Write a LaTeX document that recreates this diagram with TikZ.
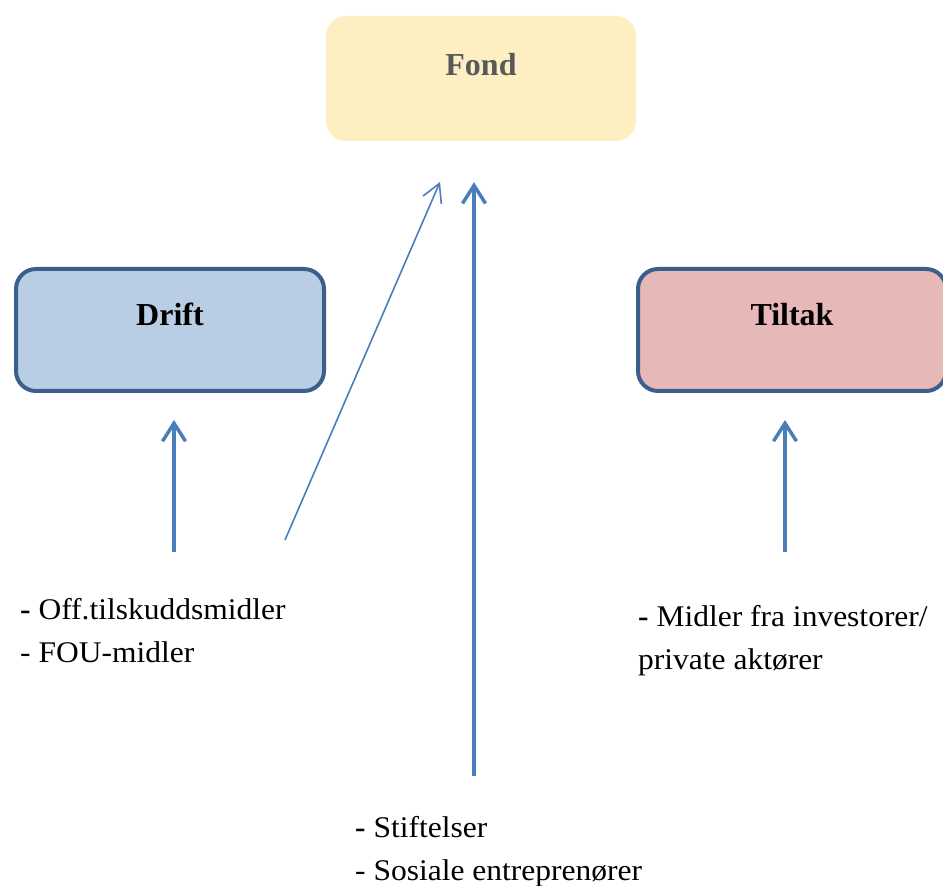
\documentclass[tikz,border=0pt]{standalone}
\usepackage{fontspec}
\setmainfont{Liberation Serif}
\newfontfamily\listfont{Liberation Serif}[FakeStretch=1.05]
\usetikzlibrary{arrows.meta}
\definecolor{fondfill}{HTML}{FEEFC3}
\definecolor{driftfill}{HTML}{B9CDE5}
\definecolor{tiltakfill}{HTML}{E6B9B8}
\definecolor{boxline}{HTML}{3A5F8C}
\definecolor{flowline}{HTML}{4A7EBB}
\definecolor{fondtext}{HTML}{595959}
\begin{document}
\begin{tikzpicture}[x=1pt, y=1pt,
box/.style={rectangle, rounded corners=20pt, inner sep=0pt, align=center,
  text width=310pt, text height=60pt, text depth=65pt,
  font=\fontsize{32}{36}\selectfont\bfseries},
fund/.style={box, fill=fondfill, text=fondtext},
cost/.style={box, draw=boxline, line width=4pt, text width=308pt, text height=57pt, text depth=65pt},
src/.style={anchor=base west, inner sep=0pt, align=left,
  font=\listfont\fontsize{30}{43}\selectfont},
flow/.style={draw=flowline, line width=3.5pt, -{Straight Barb[length=18pt, width=23pt, line width=3.5pt]}},
thinflow/.style={draw=flowline, line width=1.6pt, -{Straight Barb[length=18pt, width=20pt, line width=1.6pt]}},
]
\useasboundingbox (0,0) rectangle (943,886);
\clip (0,0) rectangle (943,886);

% Boxes
\node[fund] (fond) at (481,807.5) {Fond};
\node[cost, fill=driftfill] (drift) at (170,556) {Drift};
\node[cost, fill=tiltakfill] (tiltak) at (792,556) {Tiltak};

% Sources of money
\node[src] (offentlig) at (20,223) {\textbf{-} Off.tilskuddsmidler\\- FOU-midler};
\node[src] (privat) at (638,216) {\textbf{-} Midler fra investorer/\\private aktører};
\node[src] (stiftelser) at (355,5) {\textbf{-} Stiftelser\\- Sosiale entreprenører};

% Arrows
\coordinate (driftsrc) at (174,334);
\coordinate (tiltaksrc) at (785,334);
\coordinate (fondsrc) at (285,346);
\coordinate (fondend) at (440,704);
\coordinate (stiftsrc) at (474,110);
\draw[flow, shorten >=27pt] (driftsrc) -- (driftsrc |- drift.south);
\draw[flow, shorten >=27pt] (tiltaksrc) -- (tiltaksrc |- tiltak.south);
\draw[thinflow] (fondsrc) -- (fondend);
\draw[flow, line width=4.5pt, shorten >=41pt] (stiftsrc) -- (stiftsrc |- fond.south);

\end{tikzpicture}
\end{document}
